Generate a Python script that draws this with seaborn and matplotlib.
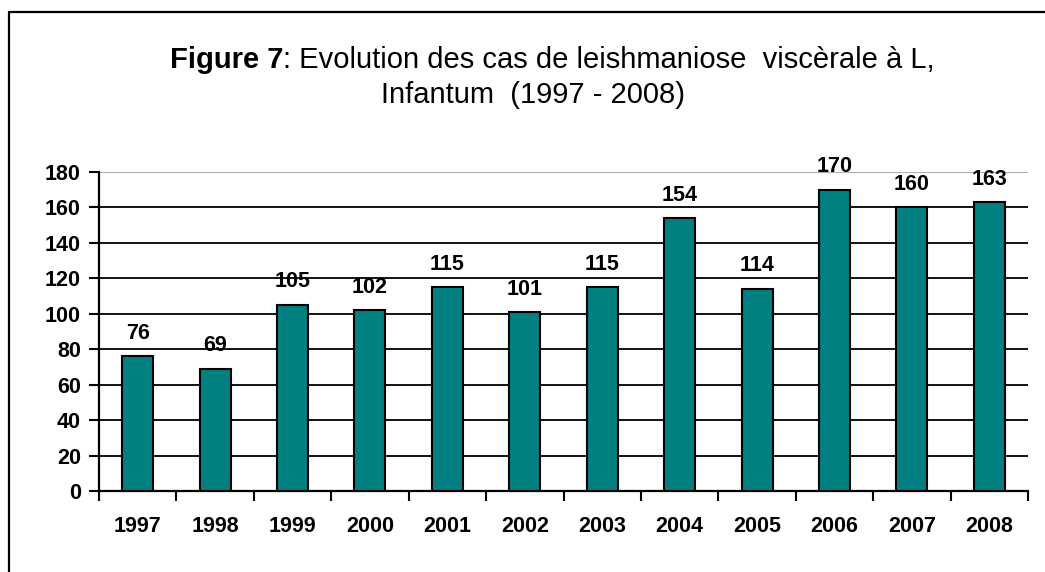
import matplotlib
matplotlib.use('Agg')
import matplotlib.pyplot as plt
import seaborn as sns
import pandas as pd

# ── DATA ──────────────────────────────────────────────────────────────────────
years = ["1997", "1998", "1999", "2000", "2001", "2002",
         "2003", "2004", "2005", "2006", "2007", "2008"]
cases = [76, 69, 105, 102, 115, 101, 115, 154, 114, 170, 160, 163]
y_ticks = [0, 20, 40, 60, 80, 100, 120, 140, 160, 180]

title_bold = "Figure 7"
title_rest = ": Evolution des cas de leishmaniose  viscèrale à L,"
title_line2 = "Infantum  (1997 - 2008)"

df = pd.DataFrame({"year": years, "cases": cases})

sns.set_style("white")
plt.rcParams['font.family'] = ['Liberation Sans', 'DejaVu Sans']
plt.rcParams['text.color'] = 'black'
plt.rcParams['xtick.color'] = 'black'
plt.rcParams['ytick.color'] = 'black'

W, H = 1045, 572
fig = plt.figure(figsize=(W / 100, H / 100), dpi=100)
ax = fig.add_axes([99 / W, 1 - 491 / H, (1028 - 99) / W, (491 - 172) / H])

sns.barplot(data=df, x="year", y="cases", color="#008080", saturation=1,
            edgecolor="black", linewidth=1.5, width=0.4, ax=ax, zorder=3)

ax.set_xlim(-0.5, len(years) - 0.5)
ax.set_ylim(0, 180)
ax.set_yticks(y_ticks)
ax.set_xlabel("")
ax.set_ylabel("")

# grid
ax.yaxis.grid(True, color="black", linewidth=1.3, zorder=0)
ax.set_axisbelow(True)
grid = ax.get_ygridlines()
grid[-1].set_color("#b0b0b0")
grid[-1].set_linewidth(0.8)

for s in ["top", "right"]:
    ax.spines[s].set_visible(False)
for s in ["left", "bottom"]:
    ax.spines[s].set_color("black")
    ax.spines[s].set_linewidth(1.6)

# ticks: x ticks between categories
ax.set_xticks([i - 0.5 for i in range(len(years) + 1)], minor=True)
ax.tick_params(axis="x", which="major", length=0, pad=18, labelsize=15.5,
               labelcolor="black")
ax.tick_params(axis="x", which="minor", length=7, width=1.5, color="black",
               direction="out", bottom=True)
ax.tick_params(axis="y", length=7, width=1.5, color="black", direction="out",
               left=True, pad=6, labelsize=15.5, labelcolor="black")
for lab in ax.get_xticklabels() + ax.get_yticklabels():
    lab.set_fontweight("bold")

ax.bar_label(ax.containers[0], padding=9, fontsize=15.5, fontweight="bold",
             color="black")

# title with bold prefix
fig.canvas.draw()
r = fig.canvas.get_renderer()
tb = fig.text(0, 1 - 68 / H, title_bold, fontsize=21, fontweight="bold",
              ha="left", va="baseline", color="black")
tr = fig.text(0, 1 - 68 / H, title_rest, fontsize=21, ha="left",
              va="baseline", color="black")
wb = tb.get_window_extent(r).width
wr = tr.get_window_extent(r).width
x0 = 552 - (wb + wr) / 2
tb.set_x(x0 / W)
tr.set_x((x0 + wb) / W)
fig.text(533 / W, 1 - 103 / H, title_line2, fontsize=21, ha="center",
         va="baseline", color="black")

# outer frame (clipped on right/bottom)
fig.add_artist(plt.Line2D([9 / W, 9 / W], [0, 1 - 12 / H], color="black",
                          linewidth=1.6, transform=fig.transFigure))
fig.add_artist(plt.Line2D([9 / W, 1], [1 - 12 / H, 1 - 12 / H], color="black",
                          linewidth=1.6, transform=fig.transFigure))

fig.savefig("out.png", dpi=100)
